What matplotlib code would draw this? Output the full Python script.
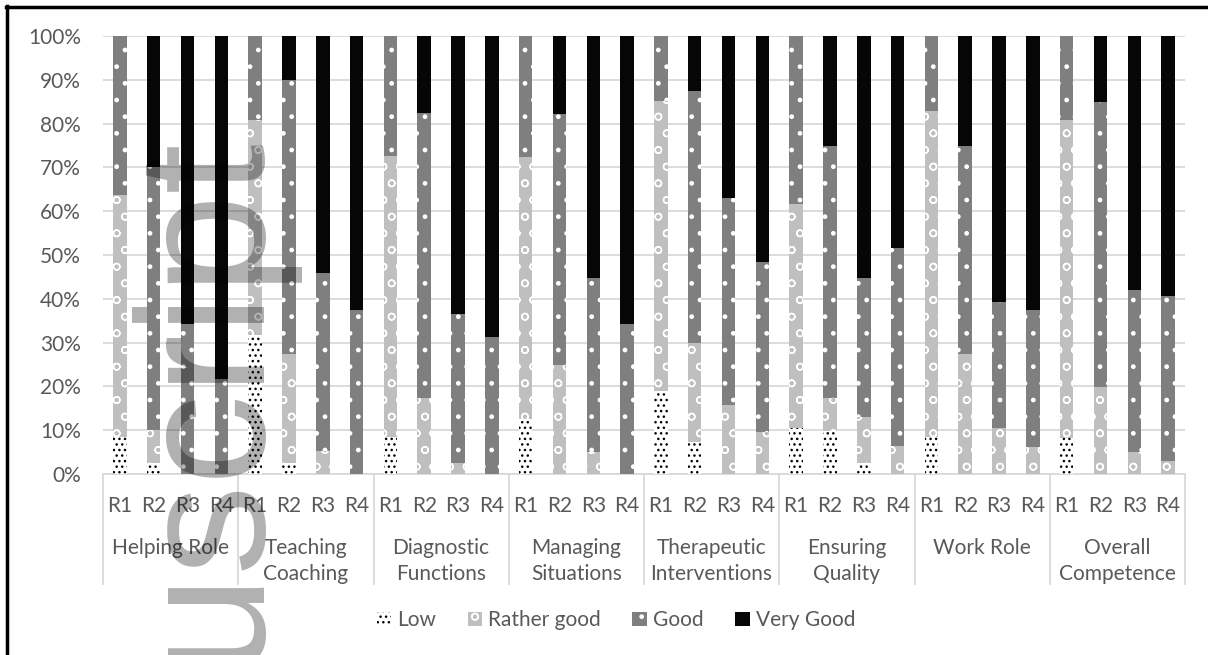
import matplotlib
matplotlib.use("Agg")
import matplotlib.pyplot as plt
from matplotlib.lines import Line2D
import numpy as np

groups = ["Helping Role", "Teaching\nCoaching", "Diagnostic\nFunctions", "Managing\nSituations",
          "Therapeutic\nInterventions", "Ensuring\nQuality", "Work Role", "Overall\nCompetence"]
rounds = ["R1", "R2", "R3", "R4"]

# percentages per bar, 8 groups x 4 rounds
low = [8.4, 2.4, 0, 0, 31.7, 2.4, 0, 0, 8.4, 0, 0, 0, 12.6, 0, 0, 0,
       19.0, 7.2, 0, 0, 10.4, 9.8, 2.4, 0, 8.4, 0, 0, 0, 8.3, 0, 0, 0]
rather_good = [55.3, 7.6, 0, 0, 49.1, 25.0, 5.3, 0, 64.1, 17.4, 2.4, 0, 59.7, 24.9, 5.1, 0,
               66.2, 22.6, 15.8, 9.5, 51.2, 7.6, 10.7, 6.4, 74.5, 27.4, 10.4, 6.2, 72.5, 19.8, 5.1, 3.0]
good = [36.3, 60.2, 34.2, 21.8, 19.2, 62.6, 40.7, 37.4, 27.5, 65.0, 34.2, 31.2, 27.7, 57.4, 39.6, 34.2,
        14.8, 57.7, 47.3, 38.8, 38.4, 57.6, 31.6, 45.1, 17.1, 47.6, 28.9, 31.2, 19.2, 65.1, 36.9, 37.6]
very_good = [0, 29.8, 65.8, 78.2, 0, 10.0, 54.0, 62.6, 0, 17.6, 63.4, 68.8, 0, 17.7, 55.3, 65.8,
             0, 12.5, 36.9, 51.7, 0, 25.0, 55.3, 48.5, 0, 25.0, 60.7, 62.6, 0, 15.1, 58.0, 59.4]

plt.rcParams["font.family"] = ["Lato", "DejaVu Sans"]
plt.rcParams["hatch.linewidth"] = 1.0
txt = "#595959"
fs = 15

fig = plt.figure(figsize=(12.08, 6.55), dpi=100)
ax = fig.add_axes([103 / 1208, 181 / 655, 1082 / 1208, 438 / 655])

x = np.arange(len(low))
w = 0.4
b = np.zeros(len(low))
ax.bar(x, low, w, bottom=b, color="white", edgecolor="black", hatch="...", lw=0, label="Low", zorder=3)
b += low
ax.bar(x, rather_good, w, bottom=b, color="#bfbfbf", edgecolor="white", hatch="o", lw=0, label="Rather good", zorder=3)
b += rather_good
ax.bar(x, good, w, bottom=b, color="#7f7f7f", edgecolor="white", hatch=".", lw=0, label="Good", zorder=3)
b += good
ax.bar(x, very_good, w, bottom=b, color="#060606", lw=0, label="Very Good", zorder=3)

ax.set_xlim(-0.5, len(low) - 0.5)
ax.set_ylim(0, 100)
ax.set_yticks(range(0, 101, 10))
ax.set_yticklabels([f"{v}%" for v in range(0, 101, 10)], color=txt, fontsize=fs)
ax.yaxis.grid(True, color="#d9d9d9", lw=1.3)
ax.set_axisbelow(True)
for s in ["top", "right", "left"]:
    ax.spines[s].set_visible(False)
ax.spines["bottom"].set_color("#d9d9d9")
ax.spines["bottom"].set_linewidth(1.3)
ax.tick_params(axis="y", length=0, pad=16)
ax.set_xticks(x)
ax.set_xticklabels(rounds * len(groups), color=txt, fontsize=fs)
ax.tick_params(axis="x", length=0, pad=16)

# group labels and separators
trans = ax.get_xaxis_transform()
for i, g in enumerate(groups):
    ax.text(4 * i + 1.5, -0.146, g, transform=trans, ha="center", va="top",
            fontsize=fs, color=txt, linespacing=1.4)
for k in range(len(groups) + 1):
    ax.add_line(Line2D([4 * k - 0.5] * 2, [0, -0.25], transform=trans, color="#d9d9d9",
                       lw=1.3, clip_on=False))

fig.legend(loc="center", bbox_to_anchor=(0.51, 0.053), ncol=4, frameon=False, fontsize=fs,
           handlelength=0.7, handleheight=0.7, handletextpad=0.3, columnspacing=1.5,
           labelcolor=txt)

# page border
fig.add_artist(Line2D([6 / 1208, 1], [1 - 7 / 655] * 2, color="black", lw=2.5))
fig.add_artist(Line2D([7 / 1208] * 2, [0, 1 - 6 / 655], color="black", lw=2.5))

# watermark
fig.text(250 / 1208, 1 - 128 / 655, "Manuscript", rotation=90, rotation_mode="anchor",
         ha="right", va="baseline", fontsize=130, family="Liberation Sans",
         color="black", alpha=0.31, zorder=10)

fig.savefig("out.png", dpi=100)
